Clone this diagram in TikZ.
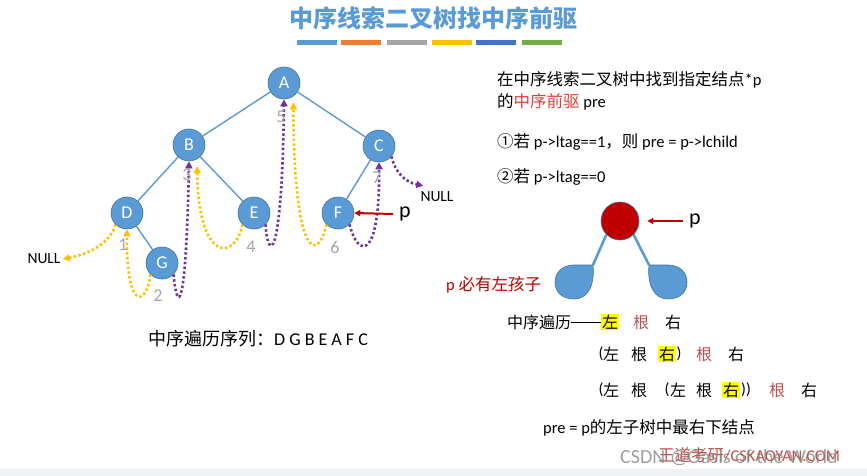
\documentclass[tikz,border=0pt]{standalone}
\usepackage{fontspec}
\setmainfont{Carlito}
\newfontfamily\cjk{Noto Sans CJK SC}
\usetikzlibrary{arrows.meta}
\newcommand\myfs[1]{\fontsize{#1}{#1}\selectfont}
\definecolor{nodeblue}{HTML}{5B9BD5}
\definecolor{nodeborder}{HTML}{41719C}
\definecolor{titleblue}{HTML}{5B9BD5}
\definecolor{dotyellow}{HTML}{FFC000}
\definecolor{dotpurple}{HTML}{7030A0}
\definecolor{numgray}{HTML}{A6A6A6}
\definecolor{darkred}{HTML}{C00000}
\definecolor{hlred}{HTML}{E0403A}
\definecolor{rootred}{HTML}{C0504D}
\definecolor{barA}{HTML}{5B9BD5}
\definecolor{barB}{HTML}{ED7D31}
\definecolor{barC}{HTML}{A5A5A5}
\definecolor{barD}{HTML}{FFC000}
\definecolor{barE}{HTML}{4472C4}
\definecolor{barF}{HTML}{70AD47}
\definecolor{hlyellow}{HTML}{FFFF00}
\definecolor{stripgray}{HTML}{F1F2F4}
\begin{document}
\begin{tikzpicture}[x=1pt,y=-1pt,
  tn/.style={circle, fill=nodeblue, draw=nodeborder, line width=0.6pt, minimum size=32pt, inner sep=0pt, text=white, font=\myfs{18}},
  edge/.style={draw=nodeblue, line width=1.4pt},
  yarrow/.style={draw=dotyellow, line width=2.6pt, dash pattern=on 2.4pt off 2.4pt, -{Triangle[length=7pt,width=7pt]}},
  parrow/.style={draw=dotpurple, line width=2.6pt, dash pattern=on 2.4pt off 2.4pt, -{Triangle[length=7pt,width=7pt]}},
  num/.style={text=numgray, font=\myfs{18}, inner sep=0pt},
  redarrow/.style={draw=darkred, line width=2pt, -{Triangle[length=6pt,width=6pt]}},
  txt/.style={anchor=west, inner sep=0pt, font=\myfs{16.5}},
  ch/.style={inner sep=0.6pt, font=\cjk\myfs{16}},
  par/.style={inner sep=0pt, font=\myfs{16}},
  hl/.style={ch, fill=hlyellow},
  thick blue/.style={draw=nodeblue, line width=2.6pt}
]
\useasboundingbox (0,0) rectangle (867,476);
\fill[white] (0,0) rectangle (867,476);
\fill[stripgray] (0,469) rectangle (867,476);

% title and colour bars
\node[font=\cjk\bfseries\myfs{24}, text=titleblue] (title) at (433,18) {中序线索二叉树找中序前驱};
\fill[barA] (297,40) rectangle (337,45);
\fill[barB] (341,40) rectangle (381,45);
\fill[barC] (387,40) rectangle (427,45);
\fill[barD] (432,40) rectangle (472,45);
\fill[barE] (476,40) rectangle (516,45);
\fill[barF] (522,40) rectangle (562,45);

% tree
\node[tn] (A) at (284,83) {A};
\node[tn] (B) at (189,145) {B};
\node[tn] (C) at (379,146) {C};
\node[tn] (D) at (127,213) {D};
\node[tn] (E) at (254,213) {E};
\node[tn] (F) at (338,213) {F};
\node[tn] (G) at (162,263) {G};
\draw[edge] (A) -- (B);
\draw[edge] (A) -- (C);
\draw[edge] (B) -- (D);
\draw[edge] (B) -- (E);
\draw[edge] (C) -- (F);
\draw[edge] (D) -- (G);

% NULL labels
\node[font=\myfs{15.5}, inner sep=0pt] (N1) at (44,259) {NULL};
\node[font=\myfs{15.5}, inner sep=1pt] (N2) at (437,197) {NULL};

% thread arrows
\draw[yarrow] (D.225) .. controls (110,245) and (85,255) .. ([xshift=2pt]N1.east);
\draw[yarrow] (G.225) .. controls (146,308) and (126,310) .. (D.south);
\draw[parrow] (G.315) .. controls (177,313) and (186,317) .. (B.south);
\draw[yarrow, shorten >=7pt] (E.225) .. controls (235,262) and (198,262) .. (B.-60);
\draw[parrow] (E.315) .. controls (268,262) and (282,265) .. (A.south);
\draw[yarrow, shorten >=6pt] (F.225) .. controls (318,262) and (294,262) .. (A.-55);
\draw[parrow] (F.315) .. controls (358,258) and (380,262) .. (C.south);
\draw[parrow] (C.-40) .. controls (395,172) and (405,182) .. ([shift={(4,-5)}]N2.north west);

% numbers
\node[num] (n1) at (123,245) {1};
\node[num] (n2) at (158,296) {2};
\node[num] (n3) at (187,175) {3};
\node[num] (n4) at (251,247) {4};
\node[num] (n5) at (281,117) {5};
\node[num] (n6) at (335,247) {6};
\node[num] (n7) at (377,178) {7};

% pointer p to F
\node[font=\myfs{22}, inner sep=0pt] (pF) at (405,214) {p};
\coordinate (pFs) at (393,214);
\draw[redarrow] (pFs) -- (F.east);

% in-order sequence
\node[txt, font=\myfs{18}] (seq) at (148,339) {{\cjk 中序遍历序列：}D G B E A F C};

% right text
\node[txt] (t1) at (497,80) {{\cjk 在中序线索二叉树中找到指定结点}*p};
\node[txt] (t2) at (497,102) {{\cjk 的}{\cjk\color{hlred}中序前驱} pre};
\node[txt] (t3) at (497,142) {{\cjk ①若} p->ltag==1{\cjk ，则} pre = p->lchild};
\node[txt] (t4) at (497,177) {{\cjk ②若} p->ltag==0};

% small tree with red node
\node[circle, fill=darkred, draw=nodeborder, line width=0.6pt, minimum size=38pt, inner sep=0pt] (R) at (620,221) {};
\node[font=\myfs{22}, inner sep=0pt] (pR) at (695,221) {p};
\coordinate (pRs) at (683,221);
\draw[redarrow, shorten >=8pt] (pRs) -- (R.east);
\draw[thick blue] (R.225) -- (593,265);
\draw[thick blue] (R.-45) -- (649,265);
\draw[fill=nodeblue, draw=nodeborder, line width=0.6pt]
  (593,265) .. controls (595,285) and (588,299) .. (574,299)
  .. controls (560,299) and (555,290) .. (555,282)
  .. controls (555,272) and (563,265) .. (574,265) -- cycle;
\draw[fill=nodeblue, draw=nodeborder, line width=0.6pt]
  (649,265) .. controls (647,285) and (654,299) .. (668,299)
  .. controls (682,299) and (687,290) .. (687,282)
  .. controls (687,272) and (679,265) .. (668,265) -- cycle;
\node[txt, text=darkred] (lc) at (446,285) {p {\cjk 必有左孩子}};

% traversal lines
\node[txt, font=\cjk\myfs{16}] (tr0) at (507,322) {中序遍历\rule[5.2pt]{30pt}{0.9pt}};
\node[hl] (l1a) at (610,322) {左};
\node[ch, text=rootred] (l1b) at (641,322) {根};
\node[ch] (l1c) at (673,322) {右};

\node[par] (l2p) at (601,354) {(};
\node[ch] (l2a) at (611,354) {左};
\node[ch] (l2b) at (639,354) {根};
\node[hl] (l2c) at (667,354) {右};
\node[par] (l2q) at (679,354) {)};
\node[ch, text=rootred] (l2d) at (704,354) {根};
\node[ch] (l2e) at (736,354) {右};

\node[par] (l3p) at (601,390) {(};
\node[ch] (l3a) at (611,390) {左};
\node[ch] (l3b) at (639,390) {根};
\node[par] (l3q) at (667,390) {(};
\node[ch] (l3c) at (678,390) {左};
\node[ch] (l3d) at (704,390) {根};
\node[hl] (l3e) at (731,390) {右};
\node[par] (l3r) at (746,390) {))};
\node[ch, text=rootred] (l3f) at (777,390) {根};
\node[ch] (l3g) at (809,390) {右};

\node[txt] (res) at (543,428) {pre = p{\cjk 的左子树中最右下结点}};

% footer marks
\node[txt, text=rootred] (wd) at (658,455) {{\cjk 王道考研}/CSKAOYAN.COM};
\node[txt, font=\myfs{20}, text=gray, opacity=0.75] (csdn) at (620,458) {CSDN @Oasis of the World};
\end{tikzpicture}
\end{document}
